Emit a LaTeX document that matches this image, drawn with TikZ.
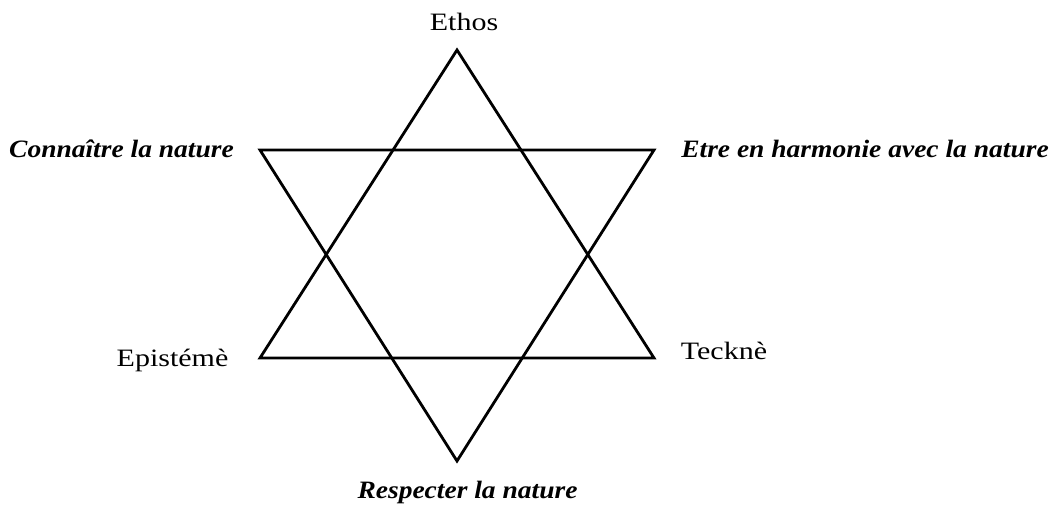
\documentclass[tikz,border=0pt]{standalone}
\usepackage{fontspec}
\setmainfont{Liberation Serif}
\newfontfamily\regfont{Liberation Serif}[FakeStretch=1.2]
\newfontfamily\bifont{Liberation Serif}[FakeStretch=1.1]
\begin{document}
\begin{tikzpicture}[x=1pt,y=-1pt,
  starline/.style={line width=2.8pt,line join=miter},
  lbl/.style={inner sep=0pt,anchor=base,font=\fontsize{25}{29}\regfont},
  lblbi/.style={inner sep=0pt,anchor=base,font=\fontsize{25}{29}\bifont\bfseries\itshape}]
\useasboundingbox (0,0) rectangle (1058,508);
\coordinate (T) at (457,50);
\coordinate (LT) at (260,150);
\coordinate (RT) at (654,150);
\coordinate (LB) at (260,358);
\coordinate (RB) at (654,358);
\coordinate (B) at (457,461);
\draw[starline] (T) -- (LB) -- (RB) -- cycle;
\draw[starline] (LT) -- (RT) -- (B) -- cycle;
\node[lbl] (ethos) at (464,31) {Ethos};
\node[lblbi] (conn) at (121.5,158) {Connaître la nature};
\node[lblbi] (etre) at (865,158) {Etre en harmonie avec la nature};
\node[lbl] (epi) at (172.5,366) {Epistémè};
\node[lbl] (tek) at (724,359) {Tecknè};
\node[lblbi] (resp) at (467.5,498) {Respecter la nature};
\end{tikzpicture}
\end{document}
